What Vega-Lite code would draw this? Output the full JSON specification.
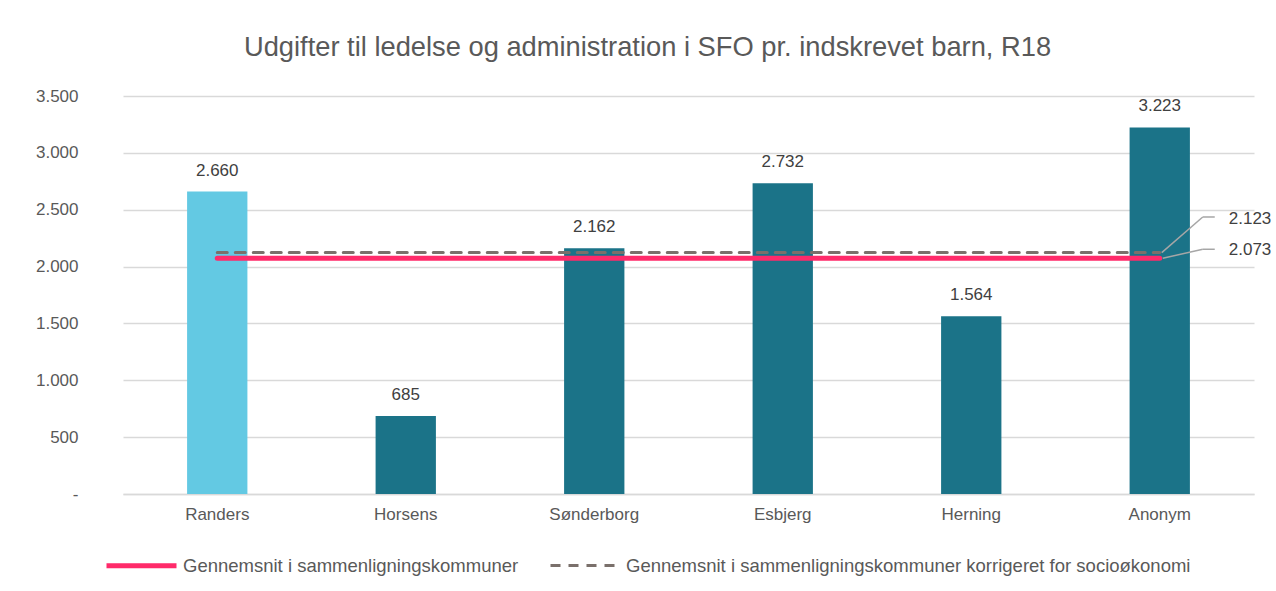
{
  "$schema": "https://vega.github.io/schema/vega-lite/v6.json",
  "autosize": {"type": "none"},
  "width": 1131,
  "height": 398,
  "padding": {"left": 123, "top": 96, "right": 22, "bottom": 97},
  "background": "white",
  "config": {
    "font": "Liberation Sans",
    "view": {"stroke": null},
    "locale": {"number": {"decimal": ",", "thousands": ".", "grouping": [3], "currency": ["", " kr."]}}
  },
  "title": {
    "text": "Udgifter til ledelse og administration i SFO pr. indskrevet barn, R18",
    "fontSize": 27.3,
    "fontWeight": "normal",
    "color": "#595959",
    "anchor": "middle",
    "frame": "group",
    "dx": -41,
    "offset": 26
  },
  "datasets": {
    "bars": [
      {"kommune": "Randers", "udgift": 2660},
      {"kommune": "Horsens", "udgift": 685},
      {"kommune": "Sønderborg", "udgift": 2162},
      {"kommune": "Esbjerg", "udgift": 2732},
      {"kommune": "Herning", "udgift": 1564},
      {"kommune": "Anonym", "udgift": 3223}
    ],
    "snit": [
      {"serie": "Gennemsnit i sammenligningskommuner", "vaerdi": 2073, "fra": "Randers", "til": "Anonym"},
      {"serie": "Gennemsnit i sammenligningskommuner korrigeret for socioøkonomi", "vaerdi": 2123, "fra": "Randers", "til": "Anonym"}
    ]
  },
  "layer": [
    {
      "data": {"name": "bars"},
      "mark": {"type": "bar"},
      "encoding": {
        "x": {
          "field": "kommune", "type": "nominal", "sort": null,
          "scale": {"paddingInner": 0.68, "paddingOuter": 0.34},
          "axis": {
            "title": null, "labelAngle": 0, "labelFontSize": 17, "labelColor": "#595959",
            "labelPadding": 12, "ticks": false, "domain": true, "domainColor": "#D9D9D9", "domainWidth": 1.5
          }
        },
        "y": {
          "field": "udgift", "type": "quantitative",
          "scale": {"domain": [0, 3500], "nice": false},
          "axis": {
            "title": null, "values": [0, 500, 1000, 1500, 2000, 2500, 3000, 3500],
            "labelExpr": "datum.value == 0 ? '-' : format(datum.value, ',.0f')",
            "labelFontSize": 17, "labelColor": "#595959", "labelPadding": 45,
            "ticks": false, "domain": false, "gridColor": "#D9D9D9", "gridWidth": 1.5
          }
        },
        "color": {
          "condition": {"test": "datum.kommune === 'Randers'", "value": "#63C9E3"},
          "value": "#1B7388"
        }
      }
    },
    {
      "data": {"name": "bars"},
      "mark": {"type": "text", "baseline": "alphabetic", "dy": -16, "fontSize": 17, "color": "#404040"},
      "encoding": {
        "x": {"field": "kommune", "type": "nominal", "sort": null},
        "y": {"field": "udgift", "type": "quantitative"},
        "text": {"field": "udgift", "type": "quantitative", "format": ",.0f"}
      }
    },
    {
      "data": {"name": "snit"},
      "mark": {"type": "rule", "strokeCap": "round"},
      "encoding": {
        "x": {"field": "fra", "type": "nominal", "sort": null},
        "x2": {"field": "til"},
        "y": {"field": "vaerdi", "type": "quantitative"},
        "color": {
          "field": "serie", "type": "nominal",
          "scale": {
            "domain": ["Gennemsnit i sammenligningskommuner", "Gennemsnit i sammenligningskommuner korrigeret for socioøkonomi"],
            "range": ["#FF2A6A", "#7A706B"]
          },
          "legend": {
            "title": null, "orient": "none", "legendX": -19, "legendY": 432, "direction": "horizontal",
            "symbolType": "stroke", "symbolSize": 4900, "labelFontSize": 18.5, "labelColor": "#595959",
            "labelOffset": 4, "columnPadding": 25, "labelLimit": 700, "padding": 0
          }
        },
        "strokeDash": {
          "field": "serie", "type": "nominal",
          "scale": {
            "domain": ["Gennemsnit i sammenligningskommuner", "Gennemsnit i sammenligningskommuner korrigeret for socioøkonomi"],
            "range": [[1, 0], [10, 8]]
          }
        },
        "strokeWidth": {
          "field": "serie", "type": "nominal",
          "scale": {
            "domain": ["Gennemsnit i sammenligningskommuner", "Gennemsnit i sammenligningskommuner korrigeret for socioøkonomi"],
            "range": [5, 3]
          }
        }
      }
    },
    {
      "data": {"name": "snit"},
      "transform": [{"filter": "datum.vaerdi == 2123"}],
      "mark": {"type": "rule", "color": "#A6A6A6", "strokeWidth": 1.5, "xOffset": 2, "x2Offset": 43, "y2Offset": -35.6},
      "encoding": {
        "x": {"field": "til", "type": "nominal", "sort": null},
        "x2": {"field": "til"},
        "y": {"field": "vaerdi", "type": "quantitative"},
        "y2": {"field": "vaerdi"}
      }
    },
    {
      "data": {"name": "snit"},
      "transform": [{"filter": "datum.vaerdi == 2123"}],
      "mark": {"type": "rule", "color": "#A6A6A6", "strokeWidth": 1.5, "xOffset": 43, "x2Offset": 55, "yOffset": -35.6, "y2Offset": -35.6},
      "encoding": {
        "x": {"field": "til", "type": "nominal", "sort": null},
        "x2": {"field": "til"},
        "y": {"field": "vaerdi", "type": "quantitative"},
        "y2": {"field": "vaerdi"}
      }
    },
    {
      "data": {"name": "snit"},
      "transform": [{"filter": "datum.vaerdi == 2073"}],
      "mark": {"type": "rule", "color": "#A6A6A6", "strokeWidth": 1.5, "xOffset": 3, "x2Offset": 43, "y2Offset": -9},
      "encoding": {
        "x": {"field": "til", "type": "nominal", "sort": null},
        "x2": {"field": "til"},
        "y": {"field": "vaerdi", "type": "quantitative"},
        "y2": {"field": "vaerdi"}
      }
    },
    {
      "data": {"name": "snit"},
      "transform": [{"filter": "datum.vaerdi == 2073"}],
      "mark": {"type": "rule", "color": "#A6A6A6", "strokeWidth": 1.5, "xOffset": 43, "x2Offset": 55, "yOffset": -9, "y2Offset": -9},
      "encoding": {
        "x": {"field": "til", "type": "nominal", "sort": null},
        "x2": {"field": "til"},
        "y": {"field": "vaerdi", "type": "quantitative"},
        "y2": {"field": "vaerdi"}
      }
    },
    {
      "data": {"name": "snit"},
      "transform": [{"filter": "datum.vaerdi == 2123"}],
      "mark": {"type": "text", "align": "left", "baseline": "middle", "dx": 69, "dy": -34, "fontSize": 17, "color": "#404040"},
      "encoding": {
        "x": {"field": "til", "type": "nominal", "sort": null},
        "y": {"field": "vaerdi", "type": "quantitative"},
        "text": {"field": "vaerdi", "type": "quantitative", "format": ",.0f"}
      }
    },
    {
      "data": {"name": "snit"},
      "transform": [{"filter": "datum.vaerdi == 2073"}],
      "mark": {"type": "text", "align": "left", "baseline": "middle", "dx": 69, "dy": -8, "fontSize": 17, "color": "#404040"},
      "encoding": {
        "x": {"field": "til", "type": "nominal", "sort": null},
        "y": {"field": "vaerdi", "type": "quantitative"},
        "text": {"field": "vaerdi", "type": "quantitative", "format": ",.0f"}
      }
    }
  ]
}
